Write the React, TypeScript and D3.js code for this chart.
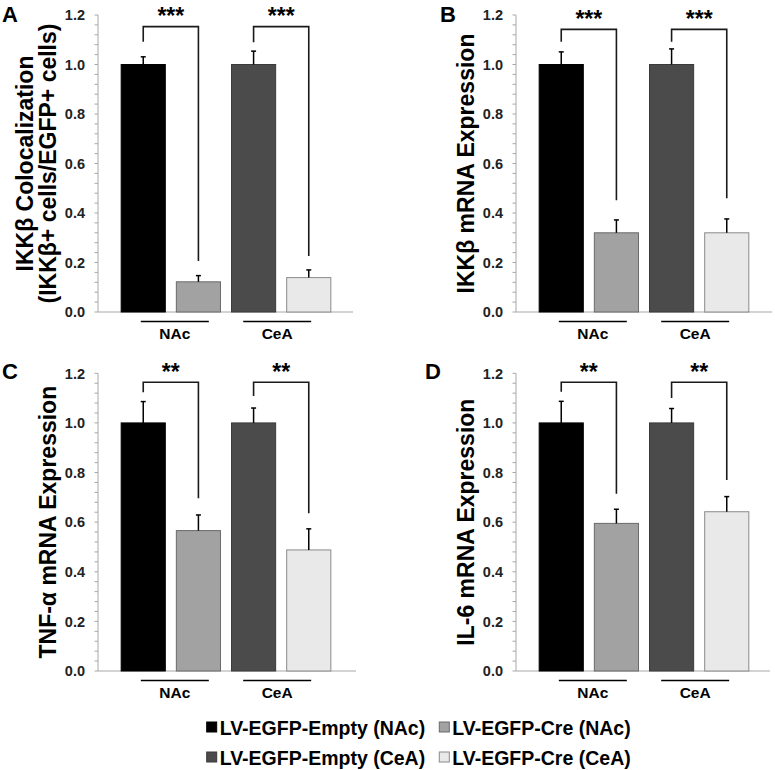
import React from "react";
import * as d3 from "d3";

// ---------- data ----------
const groups = ["NAc", "CeA"];
const seriesNames = [
  "LV-EGFP-Empty (NAc)",
  "LV-EGFP-Cre (NAc)",
  "LV-EGFP-Empty (CeA)",
  "LV-EGFP-Cre (CeA)",
];
const seriesFill = ["#000000", "#a2a2a2", "#4b4b4b", "#e9e9e9"];
const seriesStroke = ["#000000", "#6a6a6a", "#3a3a3a", "#8a8a8a"];
const yTickValues = [0, 0.2, 0.4, 0.6, 0.8, 1.0, 1.2];
const yMinorStep = 0.04;

const aValues = [1.0, 0.122, 1.0, 0.139];
const aErrors = [0.031, 0.025, 0.054, 0.031];
const aStars = ["***", "***"];
const aBracket = [1.153, 1.153];
const aLeftLeg = [1.092, 1.09];
const aRightLeg = [0.206, 0.226];

const bValues = [1.0, 0.32, 1.0, 0.32];
const bErrors = [0.051, 0.052, 0.063, 0.056];
const bStars = ["***", "***"];
const bBracket = [1.142, 1.142];
const bLeftLeg = [1.092, 1.092];
const bRightLeg = [0.452, 0.46];

const cValues = [1.0, 0.566, 1.0, 0.488];
const cErrors = [0.086, 0.063, 0.06, 0.085];
const cStars = ["**", "**"];
const cBracket = [1.164, 1.164];
const cLeftLeg = [1.124, 1.108];
const cRightLeg = [0.696, 0.636];

const dValues = [1.0, 0.595, 1.0, 0.642];
const dErrors = [0.087, 0.057, 0.058, 0.061];
const dStars = ["**", "**"];
const dBracket = [1.164, 1.164];
const dLeftLeg = [1.126, 1.1];
const dRightLeg = [0.714, 0.77];

const titleA = ["IKKβ Colocalization", "(IKKβ+ cells/EGFP+ cells)"];
const titleB = ["IKKβ mRNA Expression"];
const titleC = ["TNF-α mRNA Expression"];
const titleD = ["IL-6 mRNA Expression"];

// ---------- layout ----------
const FONT = "'Liberation Sans', Arial, Helvetica, sans-serif";

const panels = [
  { letter: "A", values: aValues, errors: aErrors, stars: aStars, bracket: aBracket, leftLeg: aLeftLeg, rightLeg: aRightLeg, title: titleA,
    x0: 98, x1: 353, yTop: 15, yBottom: 312, letterX: 2, letterY: 22 },
  { letter: "B", values: bValues, errors: bErrors, stars: bStars, bracket: bBracket, leftLeg: bLeftLeg, rightLeg: bRightLeg, title: titleB,
    x0: 516, x1: 772, yTop: 15, yBottom: 312, letterX: 440, letterY: 22 },
  { letter: "C", values: cValues, errors: cErrors, stars: cStars, bracket: cBracket, leftLeg: cLeftLeg, rightLeg: cRightLeg, title: titleC,
    x0: 98, x1: 356, yTop: 373.3, yBottom: 671, letterX: 2, letterY: 379 },
  { letter: "D", values: dValues, errors: dErrors, stars: dStars, bracket: dBracket, leftLeg: dLeftLeg, rightLeg: dRightLeg, title: titleD,
    x0: 516, x1: 770, yTop: 373.3, yBottom: 671, letterX: 425, letterY: 379 },
];

function Panel({ p }: { p: any }) {
  const x = d3
    .scaleBand<number>()
    .domain(d3.range(seriesNames.length))
    .range([p.x0, p.x0 + 256])
    .paddingInner(0.2)
    .paddingOuter(0.42);
  const y = d3.scaleLinear().domain([0, 1.2]).range([p.yBottom, p.yTop]);
  const minor = d3.range(0, 1.2 + 1e-9, yMinorStep);
  const bw = x.bandwidth();
  const cx = (i: number) => (x(i) as number) + bw / 2;
  const axisColor = "#a8a8a8";
  const plotMid = (p.x0 + p.x1) / 2;
  const titleBase = p.x0 - 42;
  const yMid = (p.yTop + p.yBottom) / 2;

  return (
    <g>
      {/* panel letter */}
      <text x={p.letterX} y={p.letterY} fontSize={22} fontWeight="bold" fill="#000" fontFamily={FONT}>
        {p.letter}
      </text>
      {/* y-axis title */}
      {p.title.map((t: string, k: number) => {
        const bx = titleBase - (p.title.length - 1 - k) * 23;
        return (
          <text key={k} transform={`translate(${bx},${yMid}) rotate(-90)`} textAnchor="middle" fontSize={23}
            fontWeight="bold" fill="#000" fontFamily={FONT}>
            {t}
          </text>
        );
      })}
      {/* y axis */}
      <line x1={p.x0} x2={p.x0} y1={y(0)} y2={y(1.2)} stroke={axisColor} strokeWidth={1} />
      {minor.map((v, k) => (
        <line key={k} x1={p.x0 - 3.5} x2={p.x0} y1={y(v)} y2={y(v)} stroke={axisColor} strokeWidth={1} />
      ))}
      {yTickValues.map((v) => (
        <text key={v} x={p.x0 - 13} y={y(v)} dy="0.36em" textAnchor="end" fontSize={14.5} fontWeight="bold"
          fill="#222" fontFamily={FONT}>
          {d3.format(".1f")(v)}
        </text>
      ))}
      {/* x axis */}
      <line x1={p.x0} x2={p.x1} y1={y(0)} y2={y(0)} stroke={axisColor} strokeWidth={1.2} />
      {/* bars */}
      {p.values.map((v: number, i: number) => (
        <rect key={i} x={x(i)} y={y(v)} width={bw} height={y(0) - y(v)} fill={seriesFill[i]}
          stroke={seriesStroke[i]} strokeWidth={1} />
      ))}
      {/* error bars */}
      {p.values.map((v: number, i: number) => (
        <g key={i} stroke="#000" strokeWidth={1.5}>
          <line x1={cx(i)} x2={cx(i)} y1={y(v)} y2={y(v + p.errors[i])} />
          <line x1={cx(i) - 2.5} x2={cx(i) + 2.5} y1={y(v + p.errors[i])} y2={y(v + p.errors[i])} />
        </g>
      ))}
      {/* brackets and stars */}
      {groups.map((g, gi) => {
        const l = cx(gi * 2);
        const r = cx(gi * 2 + 1);
        const top = y(p.bracket[gi]);
        return (
          <g key={g}>
            <path d={`M${l},${y(p.leftLeg[gi])}V${top}H${r}V${y(p.rightLeg[gi])}`} fill="none" stroke="#1a1a1a"
              strokeWidth={1.6} />
            <text x={(l + r) / 2} y={top - 2.5} textAnchor="middle" fontSize={23} fontWeight="bold" fill="#000"
              fontFamily={FONT}>
              {p.stars[gi]}
            </text>
          </g>
        );
      })}
      {/* group underline + labels */}
      {groups.map((g, gi) => {
        const c0 = (x(gi * 2) as number + (x(gi * 2 + 1) as number) + bw) / 2;
        const c = c0 + (c0 < plotMid ? 4 : -4);
        return (
          <g key={g}>
            <line x1={c - 34} x2={c + 34} y1={y(0) + 9.5} y2={y(0) + 9.5} stroke="#000" strokeWidth={1.5} />
            <text x={c} y={y(0) + 26.5} textAnchor="middle" fontSize={15.5} fontWeight="bold" fill="#000"
              fontFamily={FONT}>
              {g}
            </text>
          </g>
        );
      })}
    </g>
  );
}

function Legend() {
  const cols = [206.7, 439.3];
  const rows = [722, 752];
  const layout = [
    { s: 0, c: 0, r: 0 },
    { s: 1, c: 1, r: 0 },
    { s: 2, c: 0, r: 1 },
    { s: 3, c: 1, r: 1 },
  ];
  return (
    <g>
      {layout.map(({ s, c, r }) => (
        <g key={s}>
          <rect x={cols[c]} y={rows[r]} width={10} height={10} fill={seriesFill[s]} stroke={seriesStroke[s]}
            strokeWidth={1} />
          <text x={cols[c] + 13} y={rows[r] + 12.5} fontSize={19.5} fontWeight="bold" fill="#000" fontFamily={FONT}>
            {seriesNames[s]}
          </text>
        </g>
      ))}
    </g>
  );
}

export default function App() {
  return (
    <svg width={775} height={770} viewBox="0 0 775 770"
      style={{ position: "absolute", left: 0, top: 0, display: "block", background: "#fff" }}>
      <rect x={0} y={0} width={775} height={770} fill="#fff" />
      {panels.map((p) => (
        <Panel key={p.letter} p={p} />
      ))}
      <Legend />
    </svg>
  );
}
